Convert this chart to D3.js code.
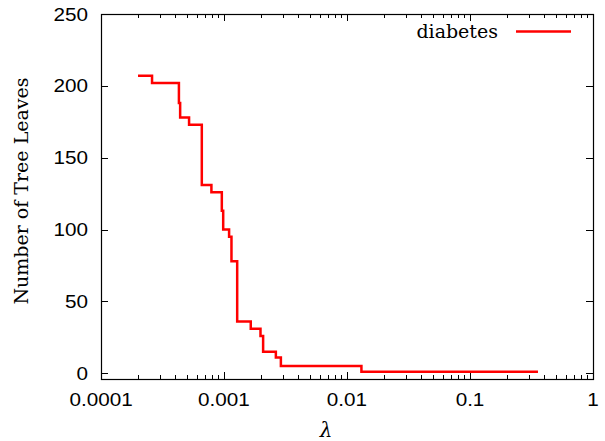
<!DOCTYPE html>
<html>
<head>
<meta charset="utf-8">
<script src="https://cdnjs.cloudflare.com/ajax/libs/d3/7.8.5/d3.min.js"></script>
<style>
  body { margin: 0; background: #fff; }
  svg { display: block; }
  .tick-label { font-family: "Liberation Sans", Arial, sans-serif; font-size: 18px; fill: #000; }
  .serif { font-family: "DejaVu Serif", "Liberation Serif", serif; font-size: 19px; fill: #000; }
</style>
</head>
<body>
<div id="chart"></div>
<script>
// Data: lambda where each step starts, and the leaf count held from there
const lambdas = [2.0e-4, 2.6e-4, 4.3e-4, 4.4e-4, 5.2e-4, 6.6e-4, 7.9e-4, 9.6e-4, 9.85e-4,
                 1.10e-3, 1.15e-3, 1.28e-3, 1.65e-3, 1.98e-3, 2.08e-3, 2.64e-3, 2.90e-3,
                 1.31e-2, 0.357];
const leaves = [207, 202, 188, 178, 173, 131, 126, 113, 100,
                95, 78, 36, 31, 26, 15, 11, 5,
                1, 1];
const seriesName = "diabetes";

const xTicks = [1e-4, 1e-3, 1e-2, 1e-1, 1];
const xTickLabels = ["0.0001", "0.001", "0.01", "0.1", "1"];
const yTicks = [0, 50, 100, 150, 200, 250];

const W = 605, H = 441;
const plot = { left: 101, right: 593, top: 14, bottom: 379 };

const svg = d3.select("#chart").append("svg")
  .attr("width", W)
  .attr("height", H);

// Scales
const x = d3.scaleLog()
  .domain([1e-4, 1])
  .range([plot.left, plot.right]);

const y = d3.scaleLinear()
  .domain([-4, 250])
  .range([plot.bottom, plot.top]);

// Minor ticks on the log axis
const minorX = [];
for (let d = -4; d < 0; d++) {
  for (let m = 2; m <= 9; m++) minorX.push(m * Math.pow(10, d));
}

const tickG = svg.append("g").attr("stroke", "#000").attr("stroke-width", 1);

// x ticks, bottom and mirrored on top
xTicks.forEach(t => {
  const px = Math.round(x(t)) + 0.5;
  tickG.append("line").attr("x1", px).attr("x2", px).attr("y1", plot.bottom).attr("y2", plot.bottom - 7);
  tickG.append("line").attr("x1", px).attr("x2", px).attr("y1", plot.top).attr("y2", plot.top + 7);
});
minorX.forEach(t => {
  const px = Math.round(x(t)) + 0.5;
  tickG.append("line").attr("x1", px).attr("x2", px).attr("y1", plot.bottom).attr("y2", plot.bottom - 4);
  tickG.append("line").attr("x1", px).attr("x2", px).attr("y1", plot.top).attr("y2", plot.top + 4);
});

// y ticks, left and mirrored on right
yTicks.forEach(t => {
  const py = Math.round(y(t)) + 0.5;
  tickG.append("line").attr("x1", plot.left).attr("x2", plot.left + 7).attr("y1", py).attr("y2", py);
  tickG.append("line").attr("x1", plot.right).attr("x2", plot.right - 7).attr("y1", py).attr("y2", py);
});

// frame
svg.append("rect")
  .attr("x", plot.left + 0.5)
  .attr("y", plot.top + 0.5)
  .attr("width", plot.right - plot.left)
  .attr("height", plot.bottom - plot.top)
  .attr("fill", "none")
  .attr("stroke", "#000")
  .attr("stroke-width", 1.2);

// tick labels (the original font is a bit wider, so stretch horizontally)
svg.selectAll(".xlab")
  .data(xTicks)
  .enter()
  .append("text")
  .attr("class", "tick-label")
  .attr("transform", d => `translate(${x(d)},406) scale(1.15,1)`)
  .attr("text-anchor", "middle")
  .text((d, i) => xTickLabels[i]);

svg.selectAll(".ylab")
  .data(yTicks)
  .enter()
  .append("text")
  .attr("class", "tick-label")
  .attr("transform", d => `translate(88,${y(d) + 6.5}) scale(1.15,1)`)
  .attr("text-anchor", "end")
  .text(d => d);

// axis titles
svg.append("text")
  .attr("class", "serif")
  .attr("transform", "translate(28,191) rotate(-90)")
  .attr("text-anchor", "middle")
  .text("Number of Tree Leaves");

svg.append("text")
  .attr("class", "serif")
  .attr("x", 326)
  .attr("y", 437)
  .attr("text-anchor", "middle")
  .style("font-style", "italic")
  .style("font-size", "20px")
  .text("λ");

// the step line
const data = lambdas.map((l, i) => ({ l: l, v: leaves[i] }));
const line = d3.line()
  .x(d => x(d.l))
  .y(d => y(d.v))
  .curve(d3.curveStepAfter);

svg.append("path")
  .datum(data)
  .attr("d", line)
  .attr("fill", "none")
  .attr("stroke", "#ff0000")
  .attr("stroke-width", 2.5);

// legend
svg.append("text")
  .attr("class", "serif")
  .attr("x", 498)
  .attr("y", 38)
  .attr("text-anchor", "end")
  .text(seriesName);

svg.append("line")
  .attr("x1", 516).attr("x2", 571)
  .attr("y1", 31.5).attr("y2", 31.5)
  .attr("stroke", "#ff0000")
  .attr("stroke-width", 2.5);
</script>
</body>
</html>
